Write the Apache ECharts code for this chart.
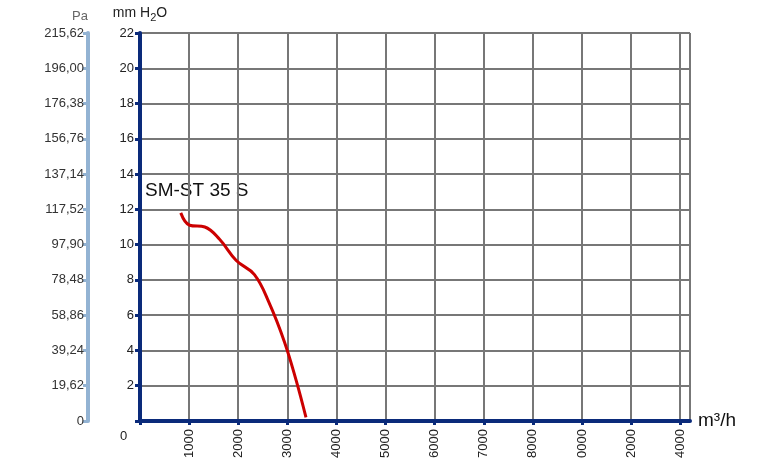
<!DOCTYPE html><html><head><meta charset="utf-8"><script src="https://cdn.jsdelivr.net/npm/echarts@6/dist/echarts.min.js"></script></head><body style="margin:0"><div id="c" style="width:770px;height:463px"></div><script>
const flowX=[830,1010,1320,1620,1960,2330,2630,2940,3180,3380];
const pressY=[11.8,11.1,11.0,10.3,9.1,8.3,6.7,4.5,2.3,0.2];
const xTickLabels=['1000','2000','3000','4000','5000','6000','7000','8000','0000','2000','4000'];
const paLabels=['0','19,62','39,24','58,86','78,48','97,90','117,52','137,14','156,76','176,38','196,00','215,62'];
const c=echarts.init(document.getElementById('c'));
const dark='#0a2a7a';
c.setOption({backgroundColor:'#fff',animation:false,
grid:{left:140,top:33,right:80,bottom:42},
xAxis:{type:'value',min:0,max:11200,interval:1000,name:'m³/h',nameGap:8,nameTextStyle:{fontSize:19,color:'#111',fontFamily:'Liberation Sans',padding:[0,0,8,0]},
axisLine:{lineStyle:{color:dark,width:4}},axisTick:{show:true,length:4,lineStyle:{color:dark,width:3}},
axisLabel:{rotate:90,fontSize:13,color:'#222',fontFamily:'Liberation Sans',formatter:(v)=>{const i=Math.round(v/1000)-1;return i>=0&&i<xTickLabels.length?xTickLabels[i]:'';}},
splitLine:{show:true,lineStyle:{color:'#777',width:2}}},
yAxis:[{type:'value',min:0,max:22,interval:2,position:'left',name:'mm H{s|2}O',nameGap:10,
nameTextStyle:{fontSize:14,color:'#222',fontFamily:'Liberation Sans',rich:{s:{fontSize:11,padding:[8,0,0,0]}}},
axisLine:{show:true,lineStyle:{color:dark,width:4}},axisTick:{show:true,length:5,lineStyle:{color:dark,width:3}},
axisLabel:{fontSize:13,color:'#222',fontFamily:'Liberation Sans',margin:6,formatter:v=>v===0?'':v},
splitLine:{show:true,lineStyle:{color:'#777',width:2}}},
{type:'value',min:0,max:22,interval:2,position:'left',offset:52,name:'Pa',nameGap:10,nameTextStyle:{fontSize:13,color:'#666',align:'right'},
axisLine:{show:true,lineStyle:{color:'#93b3d3',width:4}},axisTick:{show:true,length:5,lineStyle:{color:'#93b3d3',width:3}},
axisLabel:{fontSize:13,color:'#333',fontFamily:'Liberation Sans',margin:4,formatter:v=>paLabels[Math.round(v/2)]},splitLine:{show:false}}],
graphic:[{type:'text',left:120,top:430,style:{text:'0',fontSize:13,fill:'#222',fontFamily:'Liberation Sans'}},
{type:'text',left:145,top:181,style:{text:'SM-ST 35 S',fontSize:19,fill:'#111',fontFamily:'Liberation Sans'}}],
series:[{type:'line',smooth:0.4,symbol:'none',data:flowX.map((x,i)=>[x,pressY[i]]),lineStyle:{color:'#cc0000',width:3}}]});
</script></body></html>
